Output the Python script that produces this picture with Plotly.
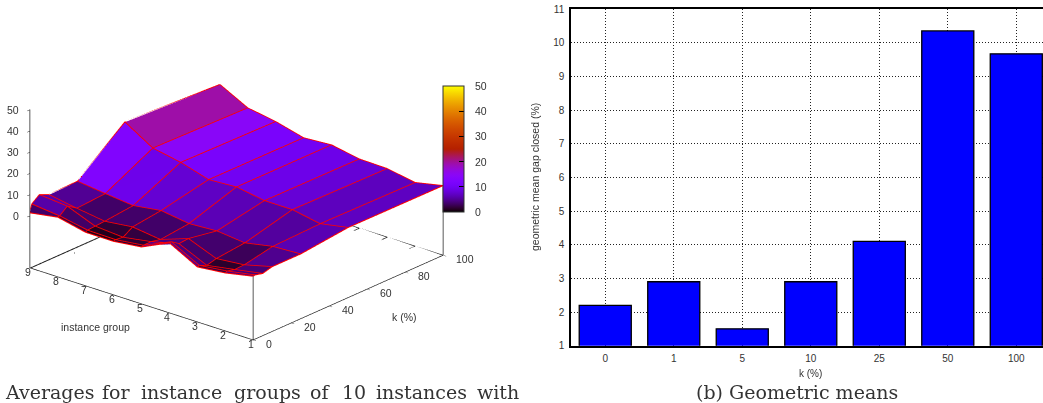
import math
import plotly.graph_objects as go

# ---- data: 3D surface (values by k, ordered instance group 1..9)
groups = [1, 2, 3, 4, 5, 6, 7, 8, 9]
k_values = [0, 1, 5, 10, 25, 50, 100]
z_k0 = [5.4, 2.7, 1.3, 8.4, 2.2, 0.6, 0.6, 3.5, 1.3]
z_k1 = [5.6, 3.2, 1.6, 8.5, 2.6, 1.0, 1.2, 3.7, 5.1]
z_k5 = [4.7, 2.3, 0.0, 6.0, 2.7, 0.5, 1.5, 6.7, 7.9]
z_k10 = [5.9, 2.5, 1.2, 6.4, 1.7, 3.4, 1.8, 3.7, 5.9]
z_k25 = [5.9, 5.2, 2.6, 4.0, 3.2, 5.1, 3.2, 4.6, 6.2]
z_k50 = [8.4, 5.9, 8.3, 8.3, 10.5, 9.7, 13.6, 16.1, 24.2]
z_k100 = [8.2, 5.4, 7.7, 8.0, 10.4, 9.5, 12.9, 15.1, 21.9]
z_rows = [z_k0, z_k1, z_k5, z_k10, z_k25, z_k50, z_k100]

z_ticks = [0, 10, 20, 30, 40, 50]
k_ticks = [0, 20, 40, 60, 80, 100]
z_floor = -24.5

# ---- data: bar chart
bar_labels = ["0", "1", "5", "10", "25", "50", "100"]
bar_values = [2.2, 2.9, 1.5, 2.9, 4.1, 10.35, 9.67]

# ---- captions
caption_words = ["Averages", "for", "instance", "groups", "of", "10", "instances", "with"]
caption_word_x = [3, 100, 139, 232, 308, 340, 374, 475]

FONT = "Liberation Sans"
SERIF = "DejaVu Serif"
W, H = 1043, 403

# gnuplot rgbformulae 7,5,15
def pal(x):
    r = math.sqrt(x)
    g = x ** 3
    b = max(0.0, math.sin(2 * math.pi * x))
    return f"rgb({round(255*r)},{round(255*g)},{round(255*b)})"
colorscale = [[i / 50, pal(i / 50)] for i in range(51)]

# mesh vertices and flat coloured cells
vx, vy, vz = [], [], []
for ki, k in enumerate(k_values):
    for gi, g in enumerate(groups):
        vx.append(k); vy.append(g); vz.append(z_rows[ki][gi])
ng = len(groups)
ti, tj, tk, cell = [], [], [], []
for ki in range(len(k_values) - 1):
    for gi in range(ng - 1):
        a = ki * ng + gi
        b = a + 1
        c = a + ng
        d = c + 1
        mean = (vz[a] + vz[b] + vz[c] + vz[d]) / 4
        ti += [a, b]; tj += [b, d]; tk += [c, c]
        cell += [mean, mean]

CB_TOP, CB_BOTTOM = 86, 212

fig = go.Figure()
fig.add_trace(go.Mesh3d(
    x=vx, y=vy, z=vz, i=ti, j=tj, k=tk, intensity=cell, intensitymode="cell",
    colorscale=colorscale, cmin=0, cmax=50, flatshading=True, hoverinfo="skip",
    lighting=dict(ambient=1, diffuse=0, specular=0, fresnel=0, roughness=1),
    scene="scene",
    colorbar=dict(
        x=443 / W, xanchor="left", xref="paper", y=1 - CB_BOTTOM / H, yanchor="bottom", yref="paper",
        thickness=21, thicknessmode="pixels", len=CB_BOTTOM - CB_TOP, lenmode="pixels",
        tickvals=z_ticks, ticks="inside", ticklen=5, tickcolor="#000", tickwidth=1, showticklabels=False,
        outlinecolor="#333", outlinewidth=1, borderwidth=0, xpad=0, ypad=0,
    ),
))
RED = "#ff0000"
LIFT = 0.12
def line3(x, y, z, color, width):
    fig.add_trace(go.Scatter3d(x=x, y=y, z=z, mode="lines", line=dict(color=color, width=width),
                               showlegend=False, hoverinfo="skip", scene="scene"))
# back floor edges and their mirrored ticks
BACK_G = 8.98
line3(k_ticks, [BACK_G] * len(k_ticks), [z_floor + 0.02] * len(k_ticks), "#222", 2)
line3([100] * ng, groups, [z_floor] * ng, "#222", 1.5)
for k in k_ticks:
    line3([k, k], [BACK_G, 8.75], [z_floor, z_floor], "#222", 1.5)
for g in groups:
    line3([100, 97], [g, g], [z_floor, z_floor], "#222", 1.5)
# vertical box edges
for k, g, top in [(0, 9, 50), (0, 1, z_k0[0]), (100, 1, z_k100[0])]:
    line3([k, k], [g, g], [z_floor, top], "#222", 1.5)
for ki, k in enumerate(k_values):
    line3([k] * ng, groups, [v + LIFT for v in z_rows[ki]], RED, 2)
for gi, g in enumerate(groups):
    line3(k_values, [g] * len(k_values), [r[gi] + LIFT for r in z_rows], RED, 2)

fig.add_trace(go.Bar(x=bar_labels, y=bar_values, width=0.76,
                     marker=dict(color="#0000ff", line=dict(color="#000", width=1.3)),
                     xaxis="x", yaxis="y", showlegend=False))

def ax3(**kw):
    d = dict(showbackground=False, showgrid=False, zeroline=False, showline=True, linecolor="#222", linewidth=1.5,
             ticks="inside", ticklen=4, tickcolor="#222", title=dict(text=""), showspikes=False,
             showticklabels=False)
    d.update(kw)
    return d

def label3(text, x, y, z, dx, dy, anchor):
    return dict(text=text, x=x, y=y, z=z, xshift=dx, yshift=-dy, xanchor=anchor, yanchor="middle", showarrow=False,
                font=dict(family=FONT, size=10.5, color="#333"))

scene_labels = (
    [label3(str(v), 0, 9, v, -9, 0, "right") for v in z_ticks]
    + [label3(str(v), v, 1, z_floor, 11, 4, "left") for v in k_ticks]
    + [label3(str(v), 0, v, z_floor, -2, 4.5, "center") for v in groups]
)

PHI = 49.6; ELEV = 22.3; DIST = 1.8; SCALE = 1.606
sp, cp = math.sin(math.radians(PHI)), math.cos(math.radians(PHI))
se, ce = math.sin(math.radians(ELEV)), math.cos(math.radians(ELEV))

def note(text, x, y, size, family=FONT, color="#333", anchor="center", angle=0):
    return dict(text=text, x=x / W, y=1 - y / H, xref="paper", yref="paper", showarrow=False, xanchor=anchor,
                yanchor="middle", textangle=angle, font=dict(family=family, size=size, color=color))

annotations = [
    note("instance group", 95, 326.5, 10.5),
    note("k (%)", 404, 316.5, 10.5),
    note("k (%)", 810.5, 373, 10),
    note("geometric mean gap closed (%)", 535, 177, 10.5, angle=-90),
    note("(b) Geometric means", 797, 392, 19, SERIF),
]
for word, wx in zip(caption_words, caption_word_x):
    annotations.append(note(word, wx, 392, 19, SERIF, anchor="left"))
for v in z_ticks:
    annotations.append(note(str(v), 473, CB_BOTTOM - v * (CB_BOTTOM - CB_TOP) / 50, 10.5, anchor="left"))

fig.update_layout(
    width=W, height=H, autosize=False, margin=dict(l=0, r=0, t=0, b=0, pad=0, autoexpand=False),
    paper_bgcolor="#fff", plot_bgcolor="#fff",
    font=dict(family=FONT, color="#333"), showlegend=False,
    scene=dict(
        domain=dict(x=[0, 473 / W], y=[1 - 365 / H, 1]),
        xaxis=ax3(range=[0, 100], tickvals=k_ticks),
        yaxis=ax3(range=[1, 9], tickvals=groups),
        zaxis=ax3(range=[z_floor, 50], tickvals=z_ticks),
        aspectmode="manual", aspectratio=dict(x=SCALE, y=SCALE, z=0.583 * SCALE),
        camera=dict(projection=dict(type="orthographic"), up=dict(x=0, y=0, z=1), center=dict(x=0, y=0, z=0),
                    eye=dict(x=-DIST * sp * ce, y=-DIST * cp * ce, z=DIST * se)),
        annotations=scene_labels,
    ),
    xaxis=dict(domain=[571 / W, 1], range=[-0.5, 6.39], type="category", showline=True, mirror=True, linecolor="#000",
               linewidth=1.5, showgrid=True, gridcolor="#222", griddash="1px,2px", gridwidth=1,
               ticks="outside", ticklen=3, tickcolor="rgba(0,0,0,0)",
               tickfont=dict(family=FONT, size=10, color="#333"), anchor="y"),
    yaxis=dict(domain=[1 - 345.7 / H, 1 - 9 / H], range=[1, 11], dtick=1, showline=True, linecolor="#000", linewidth=1.5,
               showgrid=True, gridcolor="#222", griddash="1px,2px", gridwidth=1, zeroline=False,
               ticks="outside", ticklen=3, tickcolor="rgba(0,0,0,0)",
               tickfont=dict(family=FONT, size=10, color="#333"), anchor="x"),
    annotations=annotations,
)
fig.write_html("out.html", config={"displayModeBar": False},
               post_script="document.body.style.margin='0';document.documentElement.style.overflow='hidden';")
